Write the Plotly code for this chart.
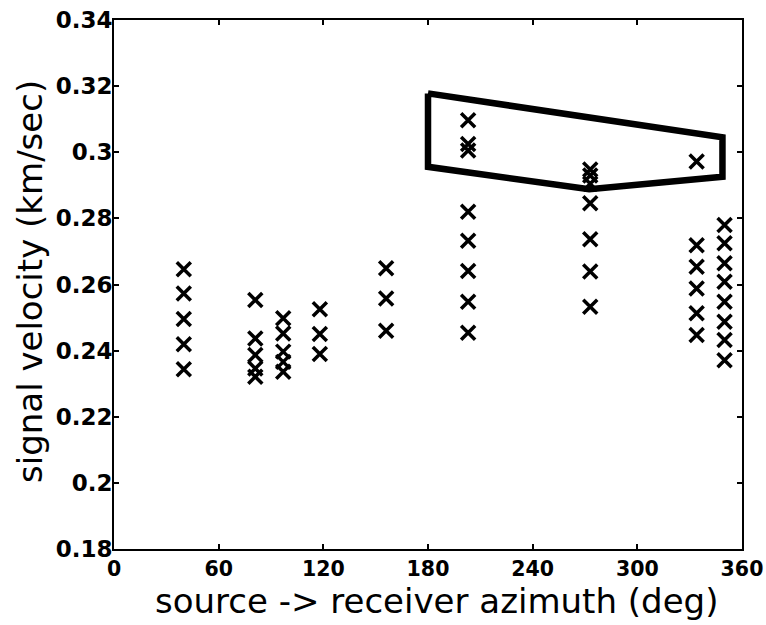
import plotly.graph_objects as go

# Station groups: azimuth (deg) and signal velocity (km/sec)
az_40 = [40] * 5
vel_40 = [0.2646, 0.2573, 0.2496, 0.2419, 0.2344]
az_81 = [81] * 5
vel_81 = [0.2553, 0.2437, 0.2387, 0.2346, 0.2321]
az_97 = [97] * 5
vel_97 = [0.2498, 0.2452, 0.2397, 0.2366, 0.2336]
az_118 = [118] * 3
vel_118 = [0.2525, 0.2450, 0.2390]
az_156 = [156] * 3
vel_156 = [0.2649, 0.2558, 0.2460]
az_203 = [203] * 8
vel_203 = [0.3097, 0.3025, 0.3005, 0.2820, 0.2732, 0.2641, 0.2548, 0.2454]
az_273 = [273] * 7
vel_273 = [0.2948, 0.2930, 0.2905, 0.2846, 0.2737, 0.2639, 0.2533]
az_334 = [334] * 6
vel_334 = [0.2972, 0.2719, 0.2654, 0.2588, 0.2513, 0.2447]
az_350 = [350] * 8
vel_350 = [0.2780, 0.2725, 0.2664, 0.2608, 0.2548, 0.2487, 0.2432, 0.2371]

azimuth = az_40 + az_81 + az_97 + az_118 + az_156 + az_203 + az_273 + az_334 + az_350
velocity = vel_40 + vel_81 + vel_97 + vel_118 + vel_156 + vel_203 + vel_273 + vel_334 + vel_350

# Outline enclosing the fast arrivals
poly_az = [180, 180, 272.4, 348.8, 348.8, 180]
poly_vel = [0.3178, 0.2956, 0.2888, 0.2926, 0.3045, 0.3178]

x_ticks = [0, 60, 120, 180, 240, 300, 360]
y_ticks = [0.18, 0.2, 0.22, 0.24, 0.26, 0.28, 0.3, 0.32, 0.34]
y_tick_text = ["0.18", "0.2", "0.22", "0.24", "0.26", "0.28", "0.3", "0.32", "0.34"]

x_title = "source -> receiver azimuth (deg)"
y_title = "signal velocity (km/sec)"

fig = go.Figure()
fig.add_trace(go.Scatter(
    x=poly_az, y=poly_vel, mode="lines",
    line=dict(color="black", width=6.5),
    hoverinfo="skip", showlegend=False,
))
fig.add_trace(go.Scatter(
    x=azimuth, y=velocity, mode="markers",
    marker=dict(symbol="x-thin-open", size=14, color="black",
                line=dict(color="black", width=3.5)),
    showlegend=False,
))

x_tick_font = dict(family="DejaVu Sans", size=20.5, color="black", weight="bold")
y_tick_font = dict(family="DejaVu Sans", size=23, color="black", weight="bold")
title_font = dict(family="DejaVu Sans", size=34, color="black")

fig.update_layout(
    width=766, height=625,
    margin=dict(l=114, r=24, t=20, b=76),
    paper_bgcolor="white", plot_bgcolor="white",
    xaxis=dict(
        range=[0, 360], tickvals=x_ticks, ticktext=[str(v) for v in x_ticks],
        showgrid=False, zeroline=False,
        showline=True, linecolor="black", linewidth=2, mirror="ticks",
        ticks="inside", ticklen=5, tickwidth=1.5, tickcolor="black",
        tickfont=x_tick_font, ticklabeloverflow="allow",
        automargin=False,
    ),
    yaxis=dict(
        range=[0.18, 0.34], tickvals=y_ticks, ticktext=y_tick_text,
        showgrid=False, zeroline=False,
        showline=True, linecolor="black", linewidth=2, mirror="ticks",
        ticks="inside", ticklen=5, tickwidth=1.5, tickcolor="black",
        tickfont=y_tick_font, ticklabeloverflow="allow", ticklabelstandoff=-5,
        automargin=False,
    ),
    annotations=[
        dict(text=x_title, xref="paper", yref="paper",
             x=(436 - 114) / 628, y=(549 - 601) / 529,
             xanchor="center", yanchor="middle", showarrow=False,
             font=title_font),
        dict(text=y_title, xref="paper", yref="paper",
             x=(30 - 114) / 628, y=(549 - 282) / 529,
             xanchor="center", yanchor="middle", showarrow=False,
             textangle=-90, font=title_font),
    ],
)

fig.write_html(
    "out.html",
    config={"displayModeBar": False},
    post_script="document.body.style.margin='0';document.body.style.overflow='hidden';",
)
